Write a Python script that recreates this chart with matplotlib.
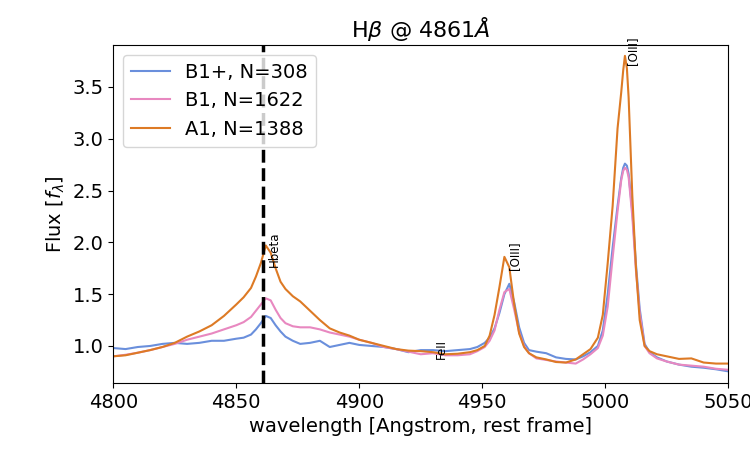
import matplotlib
matplotlib.use("Agg")
import matplotlib.pyplot as plt

# rest-frame wavelength grid (Angstrom)
wl = [4800, 4805, 4810, 4815, 4820, 4825, 4830, 4835, 4840, 4845,
      4850, 4853, 4856, 4858, 4860, 4862, 4864, 4866, 4868, 4870,
      4873, 4876, 4880, 4884, 4888, 4892, 4896, 4900, 4905, 4910,
      4915, 4920, 4925, 4930, 4935, 4940, 4945, 4948, 4951, 4953,
      4955, 4957, 4959, 4961, 4963, 4965, 4967, 4969, 4972, 4976,
      4980, 4984, 4988, 4991, 4994, 4997, 4999, 5001, 5003, 5005,
      5006.5, 5007.3, 5008, 5008.8, 5009.5, 5011, 5012.5, 5014, 5016, 5018,
      5021, 5025, 5030, 5035, 5040, 5045, 5050]

flux_b1p = [0.98, 0.97, 0.99, 1.00, 1.02, 1.03, 1.02, 1.03, 1.05, 1.05,
            1.07, 1.08, 1.11, 1.16, 1.22, 1.29, 1.27, 1.20, 1.14, 1.09,
            1.05, 1.02, 1.03, 1.05, 0.99, 1.01, 1.03, 1.01, 1.00, 0.99,
            0.97, 0.94, 0.96, 0.96, 0.95, 0.96, 0.97, 0.99, 1.03, 1.08,
            1.17, 1.32, 1.50, 1.60, 1.42, 1.18, 1.03, 0.96, 0.945, 0.93,
            0.89, 0.875, 0.87, 0.90, 0.94, 1.00, 1.15, 1.50, 1.95, 2.35,
            2.62, 2.72, 2.76, 2.74, 2.66, 2.30, 1.78, 1.36, 1.02, 0.94,
            0.89, 0.85, 0.82, 0.80, 0.79, 0.775, 0.755]

flux_b1 = [0.90, 0.915, 0.935, 0.96, 0.99, 1.02, 1.06, 1.09, 1.12, 1.16,
           1.20, 1.23, 1.28, 1.34, 1.40, 1.46, 1.44, 1.35, 1.27, 1.22,
           1.19, 1.18, 1.18, 1.16, 1.13, 1.11, 1.09, 1.06, 1.03, 0.99,
           0.97, 0.945, 0.92, 0.93, 0.91, 0.91, 0.92, 0.95, 0.99, 1.05,
           1.15, 1.35, 1.52, 1.55, 1.35, 1.13, 1.00, 0.93, 0.88, 0.865,
           0.85, 0.84, 0.83, 0.87, 0.92, 0.98, 1.10, 1.38, 1.85, 2.30,
           2.60, 2.69, 2.72, 2.70, 2.63, 2.25, 1.72, 1.32, 1.00, 0.93,
           0.88, 0.85, 0.82, 0.81, 0.80, 0.78, 0.77]

flux_a1 = [0.90, 0.91, 0.935, 0.96, 0.99, 1.03, 1.09, 1.14, 1.20, 1.29,
           1.40, 1.47, 1.56, 1.67, 1.80, 1.97, 1.90, 1.75, 1.62, 1.55,
           1.48, 1.43, 1.34, 1.25, 1.17, 1.13, 1.10, 1.06, 1.03, 1.00,
           0.97, 0.955, 0.95, 0.94, 0.92, 0.925, 0.94, 0.96, 1.00, 1.10,
           1.30, 1.57, 1.86, 1.76, 1.40, 1.12, 0.99, 0.93, 0.89, 0.87,
           0.845, 0.84, 0.87, 0.92, 0.97, 1.08, 1.30, 1.80, 2.35, 3.10,
           3.45, 3.66, 3.80, 3.68, 3.40, 2.45, 1.75, 1.25, 1.00, 0.95,
           0.92, 0.90, 0.875, 0.88, 0.84, 0.83, 0.83]

labels = ['B1+, N=308', 'B1, N=1622', 'A1, N=1388']
colors = ['#6a8fdc', '#e888c0', '#dd7a25']

# emission lines to mark: (name, label x, label y)
line_names = ['Hbeta', '[OIII]', '[OIII]', 'FeII']
line_x = [4863.0, 4960.6, 5008.5, 4930.9]
line_y = [1.76, 1.73, 3.71, 0.875]

hbeta = 4861

fig = plt.figure(figsize=(7.5, 4.5), dpi=100)
ax = fig.add_axes([0.151, 0.149, 0.820, 0.751])

for flux, lab, col in zip([flux_b1p, flux_b1, flux_a1], labels, colors):
    ax.plot(wl, flux, color=col, lw=1.5, label=lab)

ax.axvline(hbeta, color='k', ls='--', lw=2.5)

for name, x, y in zip(line_names, line_x, line_y):
    ax.text(x, y, name, rotation=90, ha='left', va='bottom', fontsize=8.5)

ax.set_xlim(4800, 5050)
ax.set_ylim(0.643, 3.905)
ax.set_yticks([1.0, 1.5, 2.0, 2.5, 3.0, 3.5])
ax.tick_params(labelsize=14)
ax.set_title(r'H$\beta$ @ 4861$\AA$', fontsize=16)
ax.set_xlabel('wavelength [Angstrom, rest frame]', fontsize=14)
ax.set_ylabel(r'Flux [$f_\lambda$]', fontsize=14)
ax.legend(loc='upper left', fontsize=14)

fig.savefig('out.png', dpi=100)
